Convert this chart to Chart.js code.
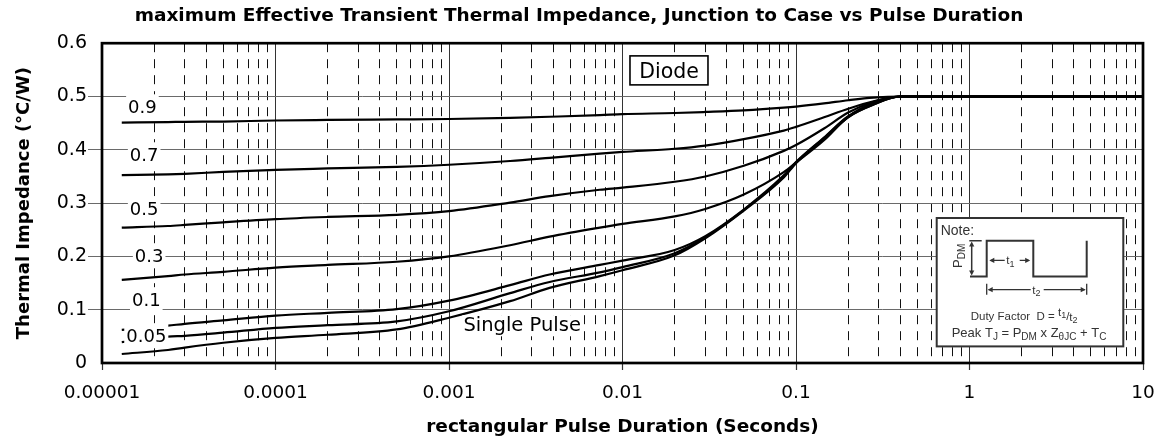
<!DOCTYPE html>
<html>
<head>
<meta charset="utf-8">
<script src="https://cdn.jsdelivr.net/npm/chart.js"></script>
<style>
html,body{margin:0;padding:0;background:#fff;}
#wrap{width:1158px;height:442px;position:relative;}
</style>
</head>
<body>
<div id="wrap"><canvas id="c"></canvas></div>
<script>
// ---- data ----
const pulseDuration = [1.3e-5, 2.4e-5, 3e-5, 5e-5, 1e-4, 2e-4, 5e-4, 1e-3, 2.25e-3, 3.8e-3, 7.4e-3, 1e-2, 2e-2, 3e-2, 5e-2, 8.5e-2, 0.1, 0.145, 0.2, 0.28, 0.4, 1, 10];
const zD09 = [0.451, 0.452, 0.4525, 0.453, 0.455, 0.456, 0.457, 0.4578, 0.460, 0.462, 0.465, 0.467, 0.469, 0.471, 0.474, 0.479, 0.481, 0.487, 0.493, 0.498, 0.500, 0.500, 0.500];
const zD07 = [0.3525, 0.354, 0.355, 0.3585, 0.3625, 0.365, 0.368, 0.372, 0.379, 0.385, 0.393, 0.396, 0.402, 0.408, 0.420, 0.436, 0.443, 0.461, 0.477, 0.491, 0.500, 0.500, 0.500];
const zD05 = [0.254, 0.257, 0.259, 0.264, 0.270, 0.274, 0.278, 0.285, 0.301, 0.313, 0.325, 0.329, 0.340, 0.350, 0.370, 0.398, 0.409, 0.440, 0.470, 0.490, 0.500, 0.500, 0.500];
const zD03 = [0.156, 0.163, 0.166, 0.171, 0.179, 0.184, 0.190, 0.200, 0.221, 0.237, 0.254, 0.261, 0.275, 0.289, 0.316, 0.358, 0.376, 0.418, 0.462, 0.488, 0.500, 0.500, 0.500];
const zD01 = [0.062, 0.070, 0.0735, 0.080, 0.089, 0.094, 0.101, 0.117, 0.146, 0.166, 0.184, 0.192, 0.212, 0.238, 0.288, 0.352, 0.377, 0.423, 0.463, 0.486, 0.500, 0.500, 0.500];
const zD005 = [0.039, 0.0494, 0.051, 0.057, 0.066, 0.071, 0.078, 0.097, 0.131, 0.152, 0.170, 0.180, 0.206, 0.236, 0.287, 0.350, 0.376, 0.422, 0.462, 0.485, 0.500, 0.500, 0.500];
const zSingle = [0.0169, 0.0244, 0.029, 0.038, 0.047, 0.053, 0.063, 0.085, 0.116, 0.141, 0.163, 0.174, 0.202, 0.234, 0.286, 0.348, 0.375, 0.421, 0.461, 0.485, 0.500, 0.500, 0.500];

const seriesNames = ['0.9', '0.7', '0.5', '0.3', '0.1', '0.05', 'Single Pulse'];
const seriesValues = [zD09, zD07, zD05, zD03, zD01, zD005, zSingle];

const xDecades = [1e-5, 1e-4, 1e-3, 1e-2, 1e-1, 1, 10];
const xTickLabels = ['0.00001', '0.0001', '0.001', '0.01', '0.1', '1', '10'];
const xMinorMultipliers = [2, 3, 4, 5, 6, 7, 8, 9];
const yTickValues = [0, 0.1, 0.2, 0.3, 0.4, 0.5, 0.6];
const yTickLabels = ['0', '0.1', '0.2', '0.3', '0.4', '0.5', '0.6'];

const chartTitle = 'maximum Effective Transient Thermal Impedance, Junction to Case vs Pulse Duration';
const xTitle = 'rectangular Pulse Duration (Seconds)';
const yTitle = 'Thermal Impedance (°C/W)';

// curve label anchors (data coordinates)
const curveLabelText = ['0.9', '0.7', '0.5', '0.3', '0.1', '0.05'];
const curveLabelX = [1.71e-5, 1.75e-5, 1.75e-5, 1.87e-5, 1.80e-5, 1.80e-5];
const curveLabelY = [0.4806, 0.3906, 0.2893, 0.2012, 0.1187, 0.0512];

const minorTicks = [];
xDecades.slice(0, -1).forEach(d => xMinorMultipliers.forEach(m => minorTicks.push(m * d)));

const SANS = 'DejaVu Sans';
const ARIAL = 'Liberation Sans';

function arrowHead(ctx, x, y, dir) {
  const L = 5, H = 2.6;
  ctx.beginPath();
  if (dir === 'l') { ctx.moveTo(x, y); ctx.lineTo(x + L, y - H); ctx.lineTo(x + L, y + H); }
  if (dir === 'r') { ctx.moveTo(x, y); ctx.lineTo(x - L, y - H); ctx.lineTo(x - L, y + H); }
  if (dir === 'u') { ctx.moveTo(x, y); ctx.lineTo(x - H, y + L); ctx.lineTo(x + H, y + L); }
  if (dir === 'd') { ctx.moveTo(x, y); ctx.lineTo(x - H, y - L); ctx.lineTo(x + H, y - L); }
  ctx.closePath();
  ctx.fill();
}

function richText(ctx, x, y, parts) {
  let cx = x;
  ctx.textAlign = 'left';
  ctx.textBaseline = 'alphabetic';
  parts.forEach(([t, s, dy]) => {
    ctx.font = s + 'px "' + ARIAL + '"';
    ctx.fillText(t, cx, y + dy);
    cx += ctx.measureText(t).width;
  });
}

const decor = {
  id: 'decor',
  afterDatasetsDraw(chart) {
    const {ctx, chartArea: a} = chart;
    ctx.save();
    ctx.strokeStyle = '#000';
    ctx.lineWidth = 2.7;
    ctx.strokeRect(a.left, a.top, a.right - a.left, a.bottom - a.top);
    ctx.restore();
  },
  afterDraw(chart) {
    const {ctx, chartArea: a} = chart;
    const xs = chart.scales.x, ys = chart.scales.y;
    ctx.save();

    // curve labels with white background
    ctx.font = '18px "' + SANS + '"';
    const capH = 13.1;
    curveLabelText.forEach((t, i) => {
      const cx = xs.getPixelForValue(curveLabelX[i]);
      const cy = ys.getPixelForValue(curveLabelY[i]);
      const w = ctx.measureText(t).width;
      ctx.fillStyle = '#fff';
      ctx.fillRect(cx - w / 2 - 2, cy - capH / 2 - 6, w + 4, capH + 12);
      ctx.fillStyle = '#000';
      ctx.textAlign = 'center';
      ctx.textBaseline = 'alphabetic';
      ctx.fillText(t, cx, cy + capH / 2);
    });

    // Single Pulse label
    {
      ctx.font = '19.5px "' + SANS + '"';
      const t = seriesNames[6];
      const cx = xs.getPixelForValue(2.64e-3);
      const cy = ys.getPixelForValue(0.0728);
      const w = ctx.measureText(t).width;
      const ch = 14.2;
      ctx.fillStyle = '#fff';
      ctx.fillRect(cx - w / 2 - 1, cy - ch / 2 - 2, w + 2, ch + 7);
      ctx.fillStyle = '#000';
      ctx.textAlign = 'center';
      ctx.textBaseline = 'alphabetic';
      ctx.fillText(t, cx, cy + ch / 2);
    }

    // Diode box
    {
      const cx = xs.getPixelForValue(0.01853);
      const cy = ys.getPixelForValue(0.549);
      const bw = 78, bh = 29;
      ctx.fillStyle = '#fff';
      ctx.fillRect(cx - bw / 2, cy - bh / 2, bw, bh);
      ctx.strokeStyle = '#000';
      ctx.lineWidth = 1.6;
      ctx.strokeRect(cx - bw / 2, cy - bh / 2, bw, bh);
      ctx.font = '20.5px "' + SANS + '"';
      ctx.fillStyle = '#000';
      ctx.textAlign = 'center';
      ctx.textBaseline = 'alphabetic';
      ctx.fillText('Diode', cx, cy + 7.4);
    }

    // Note box
    {
      const bx = a.right - 206.3, by = a.bottom - 145;
      const bw = 186.6, bh = 128.4;
      ctx.fillStyle = '#fff';
      ctx.fillRect(bx, by, bw, bh);
      ctx.strokeStyle = '#333';
      ctx.lineWidth = 2;
      ctx.strokeRect(bx, by, bw, bh);
      const ink = '#333';
      ctx.fillStyle = ink;
      ctx.strokeStyle = ink;
      ctx.font = '14px "' + ARIAL + '"';
      ctx.textAlign = 'left';
      ctx.textBaseline = 'alphabetic';
      ctx.fillText('Note:', bx + 4, by + 16.5);

      // waveform
      ctx.lineWidth = 2;
      ctx.beginPath();
      ctx.moveTo(bx + 33.3, by + 58.4);
      ctx.lineTo(bx + 50, by + 58.4);
      ctx.lineTo(bx + 50, by + 22.7);
      ctx.lineTo(bx + 96.6, by + 22.7);
      ctx.lineTo(bx + 96.6, by + 58.4);
      ctx.lineTo(bx + 150, by + 58.4);
      ctx.lineTo(bx + 150, by + 22.7);
      ctx.stroke();
      // P_DM cap + arrow
      ctx.lineWidth = 1.5;
      ctx.beginPath();
      ctx.moveTo(bx + 32.6, by + 22.7); ctx.lineTo(bx + 45, by + 22.7);
      ctx.moveTo(bx + 35, by + 26); ctx.lineTo(bx + 35, by + 55);
      ctx.stroke();
      arrowHead(ctx, bx + 35, by + 23.5, 'u');
      arrowHead(ctx, bx + 35, by + 57.6, 'd');
      // P_DM rotated label
      ctx.save();
      ctx.translate(bx + 25, by + 50);
      ctx.rotate(-Math.PI / 2);
      richText(ctx, 0, 0, [['P', 13, 0], ['DM', 10, 3]]);
      ctx.restore();
      // t1 arrow
      const t1y = by + 42.4;
      ctx.lineWidth = 1.3;
      ctx.beginPath();
      ctx.moveTo(bx + 54, t1y); ctx.lineTo(bx + 68, t1y);
      ctx.moveTo(bx + 83, t1y); ctx.lineTo(bx + 92, t1y);
      ctx.stroke();
      arrowHead(ctx, bx + 52.6, t1y, 'l');
      arrowHead(ctx, bx + 93.5, t1y, 'r');
      richText(ctx, bx + 69.5, t1y + 4, [['t', 11.5, 0], ['1', 9, 2.5]]);
      // t2 arrow
      const t2y = by + 71.7;
      ctx.beginPath();
      ctx.moveTo(bx + 50, t2y - 6); ctx.lineTo(bx + 50, t2y + 5);
      ctx.moveTo(bx + 150, t2y - 6); ctx.lineTo(bx + 150, t2y + 5);
      ctx.moveTo(bx + 52, t2y); ctx.lineTo(bx + 94, t2y);
      ctx.moveTo(bx + 107, t2y); ctx.lineTo(bx + 148, t2y);
      ctx.stroke();
      arrowHead(ctx, bx + 51, t2y, 'l');
      arrowHead(ctx, bx + 149, t2y, 'r');
      richText(ctx, bx + 95.5, t2y + 4, [['t', 11.5, 0], ['2', 9, 2.5]]);
      // duty factor
      richText(ctx, bx + 34, by + 101.7, [['Duty Factor  D = ', 11.5, 0], ['t', 11.5, -3.5], ['1', 9, -2], ['/', 11.5, 0], ['t', 11.5, 1], ['2', 9, 3.5]]);
      // peak Tj
      richText(ctx, bx + 15, by + 119, [['Peak T', 13, 0], ['J', 10, 3], [' = P', 13, 0], ['DM', 10, 3], [' x Z', 13, 0], ['θJC', 10, 3], [' + T', 13, 0], ['C', 10, 3]]);
    }
    ctx.restore();
  }
};

const datasets = seriesValues.map((vals, i) => ({
  label: seriesNames[i],
  data: pulseDuration.map((x, j) => ({x: x, y: vals[j]})),
  xAxisID: 'x',
  yAxisID: 'y',
  borderColor: '#000',
  backgroundColor: '#000',
  borderWidth: 2.2,
  pointRadius: 0,
  fill: false,
  cubicInterpolationMode: 'monotone'
}));

new Chart(document.getElementById('c'), {
  type: 'line',
  data: {datasets},
  options: {
    responsive: true,
    maintainAspectRatio: false,
    animation: false,
    events: [],
    layout: {padding: {left: 15, right: 15, top: 0, bottom: 0}},
    plugins: {
      legend: {display: false},
      tooltip: {enabled: false},
      title: {
        display: true,
        text: chartTitle,
        color: '#000',
        font: {family: SANS, size: 18.5, weight: 'bold', lineHeight: 1.2},
        padding: {top: 5, bottom: 16}
      }
    },
    scales: {
      x: {
        type: 'logarithmic',
        position: 'bottom',
        min: 1e-5,
        max: 10,
        afterBuildTicks: s => { s.ticks = xDecades.map(v => ({value: v, major: true})); },
        afterFit: s => { s.height = 79; },
        ticks: {
          autoSkip: false, maxRotation: 0, minRotation: 0, padding: 2, color: '#000',
          font: {family: SANS, size: 18.5, lineHeight: 2.3},
          callback: (v, i) => xTickLabels[i]
        },
        grid: {color: '#333', lineWidth: 1, tickLength: 7, tickColor: '#333', tickWidth: 1.2},
        border: {display: false},
        title: {
          display: true, text: xTitle, color: '#000',
          font: {family: SANS, size: 18.5, weight: 'bold', lineHeight: 1.2},
          padding: {top: 0, bottom: 4}
        }
      },
      x2: {
        type: 'logarithmic',
        position: 'bottom',
        min: 1e-5,
        max: 10,
        afterBuildTicks: s => { s.ticks = minorTicks.map(v => ({value: v})); },
        afterFit: s => { s.height = 0; },
        ticks: {display: false},
        grid: {color: '#111', lineWidth: 1, drawTicks: false, tickLength: 0},
        border: {display: false, dash: [9, 7]}
      },
      y: {
        min: 0,
        max: 0.6,
        afterBuildTicks: s => { s.ticks = yTickValues.map(v => ({value: v})); },
        afterFit: s => { s.width = 87; },
        ticks: {
          padding: 1, color: '#000',
          font: {family: SANS, size: 19},
          callback: (v, i) => yTickLabels[i]
        },
        grid: {
          color: '#6a6a6a', lineWidth: 1, tickLength: 14,
          tickColor: c => (c.index === 0 || c.index === yTickValues.length - 1) ? 'rgba(0,0,0,0)' : '#6a6a6a'
        },
        border: {display: false},
        title: {
          display: true, text: yTitle, color: '#000',
          font: {family: SANS, size: 18, weight: 'bold', lineHeight: 1},
          padding: {top: 0, bottom: 0}
        }
      }
    }
  },
  plugins: [decor]
});
</script>
</body>
</html>
